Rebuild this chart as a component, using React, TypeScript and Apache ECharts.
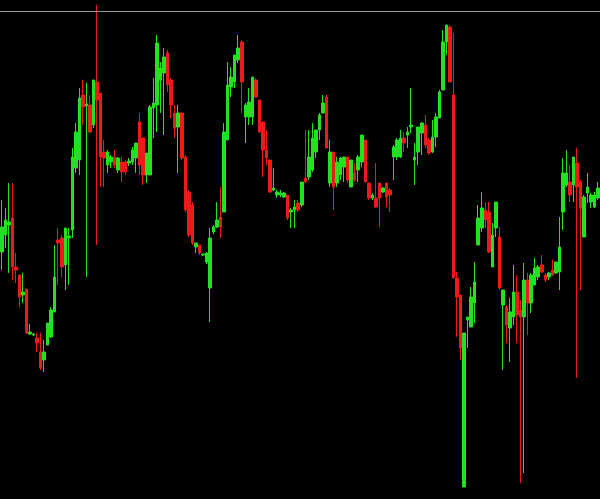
import React, { useEffect, useRef } from "react";
import * as echarts from "echarts";

const opens = [
  248, 265, 275, 282, 233, 225, 205, 211, 166, 165, 162, 148, 140, 155, 163, 188, 260, 262, 235, 262,
  270, 332, 340, 405, 394, 395, 375, 418, 407, 348, 335, 338, 343, 330, 338, 338, 337, 338, 342, 378,
  362, 325, 325, 392, 395, 420, 427, 447, 420, 387, 373, 387, 343, 308, 295, 253, 255, 245, 238, 212,
  268, 273, 283, 288, 360, 413, 418, 440, 458, 383, 383, 383, 420, 400, 378, 350, 340, 310, 305, 305,
  303, 305, 288, 290, 297, 295, 322, 323, 330, 348, 370, 387, 403, 317, 348, 317, 325, 333, 343, 313,
  327, 330, 338, 360, 317, 302, 302, 317, 308, 317, 310, 343, 343, 343, 362, 365, 373, 340, 348, 367,
  375, 360, 348, 363, 382, 410, 458, 473, 405, 222, 205, 13, 180, 173, 197, 255, 272, 290, 288, 233,
  272, 263, 195, 193, 172, 183, 208, 190, 183, 220, 197, 215, 223, 235, 225, 223, 230, 227, 228, 288,
  315, 318, 315, 337, 318, 263, 307, 298, 293, 302,
];
const closes = [
  273, 280, 278, 233, 230, 203, 208, 167, 168, 166, 157, 132, 148, 177, 190, 223, 257, 233, 272, 264,
  343, 368, 402, 393, 396, 368, 420, 400, 343, 342, 348, 343, 335, 342, 328, 328, 339, 350, 357, 335,
  325, 347, 393, 397, 457, 432, 443, 415, 395, 372, 387, 342, 290, 265, 257, 257, 247, 246, 247, 262,
  273, 280, 273, 368, 415, 423, 445, 452, 418, 395, 398, 423, 403, 368, 350, 342, 308, 312, 308, 307,
  307, 282, 290, 293, 290, 318, 318, 343, 362, 370, 385, 397, 352, 348, 313, 338, 342, 343, 320, 340,
  320, 343, 365, 318, 302, 305, 293, 302, 312, 303, 305, 353, 360, 362, 357, 368, 375, 343, 373, 377,
  355, 347, 363, 383, 408, 458, 475, 418, 222, 203, 152, 167, 183, 203, 218, 282, 292, 280, 248, 265,
  298, 212, 210, 175, 188, 208, 185, 183, 220, 197, 225, 232, 233, 228, 220, 227, 225, 238, 253, 327,
  327, 305, 343, 313, 292, 303, 313, 305, 305, 312,
];
const lows = [
  230, 252, 227, 220, 217, 193, 197, 166, 165, 164, 148, 130, 128, 155, 162, 188, 215, 223, 210, 215,
  262, 327, 325, 375, 223, 367, 372, 255, 313, 313, 327, 332, 332, 327, 318, 325, 334, 335, 327, 325,
  315, 317, 325, 362, 368, 387, 365, 408, 382, 362, 327, 340, 288, 263, 255, 247, 245, 244, 236, 178,
  266, 272, 262, 288, 360, 403, 412, 437, 387, 357, 375, 375, 402, 367, 323, 335, 307, 309, 302, 303,
  302, 280, 272, 272, 288, 293, 317, 320, 328, 342, 360, 387, 352, 313, 290, 313, 320, 318, 317, 313,
  318, 318, 333, 318, 300, 300, 292, 273, 307, 293, 288, 320, 340, 342, 348, 352, 367, 315, 335, 345,
  352, 345, 347, 353, 382, 410, 445, 418, 222, 163, 140, 13, 152, 173, 177, 255, 268, 272, 247, 233,
  263, 210, 130, 157, 138, 175, 157, 17, 27, 165, 187, 215, 220, 227, 218, 220, 224, 226, 210, 270,
  313, 298, 298, 122, 210, 263, 297, 292, 292, 300,
];
const highs = [
  300, 292, 317, 317, 247, 225, 227, 211, 176, 167, 167, 167, 160, 177, 193, 255, 272, 265, 272, 272,
  352, 377, 412, 420, 417, 405, 420, 495, 407, 360, 350, 345, 350, 343, 343, 340, 342, 353, 357, 387,
  362, 347, 395, 422, 465, 438, 452, 450, 422, 395, 395, 387, 345, 310, 298, 257, 255, 246, 248, 272,
  275, 298, 313, 377, 438, 433, 445, 465, 460, 397, 412, 423, 422, 400, 378, 370, 340, 332, 310, 310,
  308, 305, 292, 300, 300, 318, 370, 370, 377, 370, 387, 405, 405, 360, 348, 343, 343, 343, 343, 340,
  337, 345, 365, 360, 317, 307, 337, 317, 313, 317, 312, 355, 362, 370, 368, 373, 412, 357, 373, 378,
  385, 362, 380, 387, 410, 470, 475, 475, 467, 228, 205, 167, 183, 213, 238, 295, 308, 298, 298, 277,
  298, 273, 210, 195, 202, 235, 225, 200, 237, 227, 227, 242, 235, 245, 227, 228, 240, 238, 283, 342,
  350, 335, 343, 352, 320, 305, 327, 307, 308, 318,
];

const categories = opens.map((_, i) => String(i + 1));

export default function App() {
  const ref = useRef<HTMLDivElement>(null);
  useEffect(() => {
    if (!ref.current) return;
    const chart = echarts.init(ref.current, null, { renderer: "svg" });
    const data = opens.map((o, i) => [o, closes[i], lows[i], highs[i]]);
    chart.setOption({
      animation: false,
      backgroundColor: "#000000",
      grid: { left: 0, right: 0, top: 0, bottom: 0 },
      xAxis: {
        type: "category",
        data: categories,
        boundaryGap: true,
        show: false,
      },
      yAxis: {
        type: "value",
        min: 1,
        max: 500,
        show: false,
        splitLine: { show: false },
      },
      graphic: [
        {
          type: "line",
          shape: { x1: 0, y1: 11.5, x2: 600, y2: 11.5 },
          style: { stroke: "#9a9a9a", lineWidth: 1 },
          z: 10,
        },
      ],
      series: [
        {
          type: "candlestick",
          data,
          barWidth: 3,
          itemStyle: {
            color: "#22e022",
            color0: "#ec1a1a",
            borderColor: "#22e022",
            borderColor0: "#ec1a1a",
            borderWidth: 1,
          },
        },
      ],
    });
    return () => chart.dispose();
  }, []);
  return (
    <div
      ref={ref}
      style={{ position: "fixed", left: 0, top: 0, width: 600, height: 499, background: "#000" }}
    />
  );
}
